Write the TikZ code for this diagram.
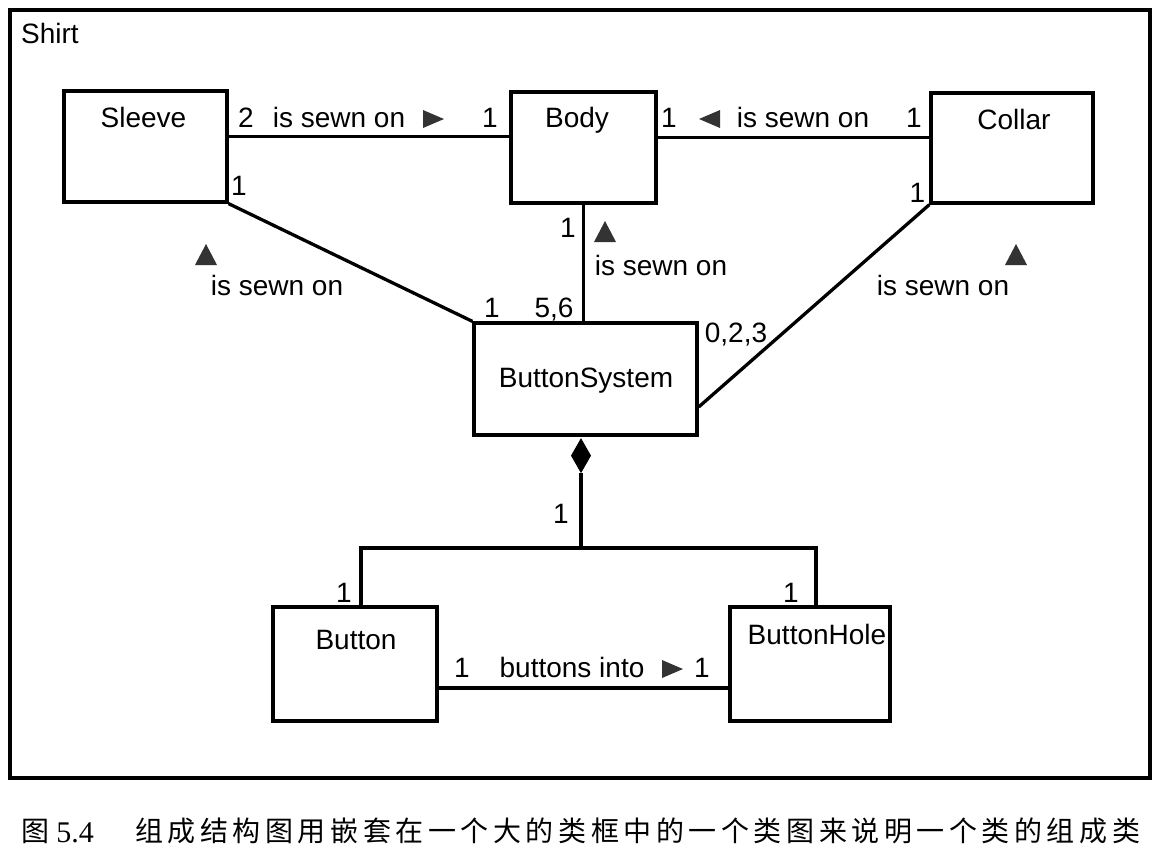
\documentclass[tikz,border=0pt]{standalone}
\usepackage{fontspec}
\setmainfont{Liberation Sans}
\newfontfamily\cjk[LetterSpace=16.3]{Noto Sans CJK SC}
\newfontfamily\cjkplain{Noto Sans CJK SC}
\newfontfamily\serifnum{Liberation Serif}
\begin{document}
\begin{tikzpicture}[x=1pt,y=-1pt,
  cls/.style={draw, line width=3.3pt, rectangle, inner sep=0pt},
  conn/.style={line width=3.3pt},
  lbl/.style={inner sep=0pt, font=\fontsize{28}{32}\selectfont, text height=20pt, text depth=0pt},
  triR/.pic={\fill[black!80] (-10,-9) -- (11,0) -- (-10,9) -- cycle;},
  triL/.pic={\fill[black!80] (10,-9) -- (-11,0) -- (10,9) -- cycle;},
  triU/.pic={\fill[black!80] (-11,10) -- (0,-11) -- (11,10) -- cycle;}
]
\useasboundingbox (0,0) rectangle (1166,865);
\fill[white] (0,0) rectangle (1166,865);

% frame
\node[cls, minimum width=1140pt, minimum height=768pt] (shirt) at (580,394) {};
\node[lbl, anchor=west] (shirtlbl) at (21,33) {Shirt};

% classes
\node[cls, minimum width=163pt, minimum height=111pt] (sleeve) at (145.5,146.5) {};
\node[cls, minimum width=145pt, minimum height=111pt] (body) at (583.5,147.5) {};
\node[cls, minimum width=162pt, minimum height=110pt] (collar) at (1012,148) {};
\node[cls, minimum width=223pt, minimum height=112pt] (bs) at (585.5,379) {};
\node[cls, minimum width=164pt, minimum height=114pt] (button) at (355,664) {};
\node[cls, minimum width=160pt, minimum height=114pt] (bh) at (810,664) {};

\node[lbl] (sleevet) at (143.5,117) {Sleeve};
\node[lbl] (bodyt) at (577,117) {Body};
\node[lbl] (collart) at (1014,119) {Collar};
\node[lbl] (bst) at (586,377) {ButtonSystem};
\node[lbl] (buttont) at (356,639) {Button};
\node[lbl] (bht) at (817,634) {ButtonHole};

% connectors
\draw[conn] ([yshift=10pt]sleeve.east) -- ([yshift=10pt]sleeve.east -| body.west);
\draw[conn] ([yshift=10pt]body.east) -- ([yshift=10pt]body.east -| collar.west);
\draw[conn] (sleeve.south east) -- (bs.north west);
\draw[conn] (body.south) -- (body.south |- bs.north);
\draw[conn] (collar.south west) -- ([yshift=-28pt]bs.east);
\coordinate (dtop) at ([xshift=-4.5pt,yshift=-1.5pt]bs.south);
\coordinate (dbot) at ([yshift=-35pt]dtop);
\fill (dtop) -- ++(10,17.5) -- (dbot) -- ++(-10,-17.5) -- cycle;
\coordinate (j) at (dbot |- 0,548);
\draw[conn] (dbot) -- (j);
\draw[conn] ([xshift=6pt]button.north) |- (j) -| ([xshift=6pt]bh.north);
\draw[conn] ([yshift=-24pt]button.east) -- ([yshift=-24pt]button.east -| bh.west);

% labels: sleeve-body
\node[lbl] (m1) at (246,117) {2};
\node[lbl] (a1) at (339,117) {is sewn on};
\pic (t1) at (433,119) {triR};
\node[lbl] (m2) at (490,117) {1};
% body-collar
\node[lbl] (m3) at (669,117) {1};
\pic (t2) at (710,119) {triL};
\node[lbl] (a2) at (803,117) {is sewn on};
\node[lbl] (m4) at (914,117) {1};
% sleeve-bs
\node[lbl] (m5) at (239,185) {1};
\pic (t3) at (206,255) {triU};
\node[lbl] (a3) at (277,285) {is sewn on};
\node[lbl] (m6) at (492,307) {1};
% body-bs
\node[lbl] (m7) at (554,307) {5,6};
\node[lbl] (m8) at (568,227) {1};
\pic (t4) at (605,232) {triU};
\node[lbl] (a4) at (661,265) {is sewn on};
% collar-bs
\node[lbl] (m9) at (736,332) {0,2,3};
\node[lbl] (m10) at (917.5,192) {1};
\pic (t5) at (1016,255) {triU};
\node[lbl] (a5) at (943,285) {is sewn on};
% composition
\node[lbl] (m11) at (561,513) {1};
\node[lbl] (m12) at (344,592) {1};
\node[lbl] (m13) at (791,592) {1};
% button-buttonhole
\node[lbl] (m14) at (462,667) {1};
\node[lbl] (a6) at (572,667) {buttons into};
\pic (t6) at (672,669) {triR};
\node[lbl] (m15) at (702,667) {1};

% caption
\node[anchor=base west, inner sep=0pt, font=\fontsize{28}{32}\selectfont\cjkplain] (capa) at (21,841) {图};
\node[anchor=base, inner sep=0pt, font=\fontsize{30}{34}\selectfont\serifnum] (capb) at (75,842) {5.4};
\node[anchor=base west, inner sep=0pt, font=\fontsize{28}{32}\selectfont\cjk] (capc) at (135,841) {组成结构图用嵌套在一个大的类框中的一个类图来说明一个类的组成类};
\end{tikzpicture}
\end{document}
